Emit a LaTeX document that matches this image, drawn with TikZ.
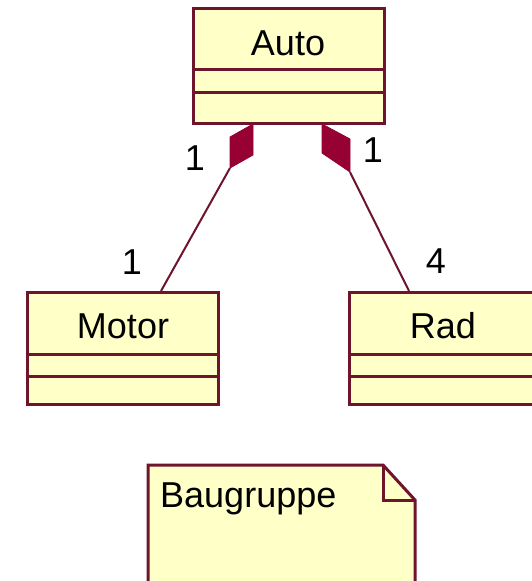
\documentclass[tikz,border=0pt]{standalone}
\usepackage{fontspec}
\setmainfont{Liberation Sans}
\definecolor{umlborder}{RGB}{110,20,45}
\definecolor{umlfill}{RGB}{255,255,200}
\definecolor{umldiam}{RGB}{150,0,50}
\begin{document}
\begin{tikzpicture}[x=1pt,y=-1pt,
  classbox/.style={draw=umlborder,fill=umlfill,line width=3pt,minimum width=191pt,inner sep=0pt},
  sepline/.style={draw=umlborder,line width=3pt},
  lbl/.style={font=\fontsize{36}{40}\selectfont,inner sep=0pt},
  conn/.style={draw=umlborder,line width=2pt},
  diam/.style={fill=umldiam,draw=umldiam,line width=0.8pt,line join=miter},
  notebox/.style={draw=umlborder,fill=umlfill,line width=3pt,line join=miter}]
\clip (0,0) rectangle (532,581);
\fill[white] (0,0) rectangle (532,581);
% classes
\node[classbox,minimum height=115pt] (auto) at (288.5,65.5) {};
\draw[sepline] (auto.west |- 0,69) -- (auto.east |- 0,69);
\draw[sepline] (auto.west |- 0,92) -- (auto.east |- 0,92);
\node[lbl] (autot) at (288,43) {Auto};
\node[classbox,minimum height=112pt] (motor) at (122.5,348) {};
\draw[sepline] (motor.west |- 0,354) -- (motor.east |- 0,354);
\draw[sepline] (motor.west |- 0,376) -- (motor.east |- 0,376);
\node[lbl] (motort) at (123,326) {Motor};
\node[classbox,minimum height=112pt] (rad) at (444.5,348) {};
\draw[sepline] (rad.west |- 0,354) -- (rad.east |- 0,354);
\draw[sepline] (rad.west |- 0,376) -- (rad.east |- 0,376);
\node[lbl] (radt) at (443,326) {Rad};
% composition diamonds
\coordinate (d1a) at (253,124);
\coordinate (d1b) at (230,137);
\coordinate (d1c) at (230,168);
\coordinate (d1d) at (253,155);
\fill[diam] (d1a) -- (d1b) -- (d1c) -- (d1d) -- cycle;
\coordinate (d2a) at (322,124);
\coordinate (d2b) at (350,139);
\coordinate (d2c) at (350,172);
\coordinate (d2d) at (322,153);
\fill[diam] (d2a) -- (d2b) -- (d2c) -- (d2d) -- cycle;
\coordinate (mtop) at (161,291);
\coordinate (rtop) at (409,291);
\draw[conn] (d1c) -- (mtop);
\draw[conn] (d2c) -- (rtop);
% multiplicities
\node[lbl] (m1) at (195,158) {1};
\node[lbl] (m2) at (373,150) {1};
\node[lbl] (m3) at (132,262) {1};
\node[lbl] (m4) at (436,261) {4};
% note
\coordinate (n1) at (148,465);
\coordinate (n2) at (383,465);
\coordinate (n3) at (415,500);
\coordinate (n4) at (415,600);
\coordinate (n5) at (148,600);
\coordinate (nf) at (383,500);
\draw[notebox] (n1) -- (n2) -- (n3) -- (n4) -- (n5) -- cycle;
\draw[sepline] (n2) -- (nf) -- (n3);
\node[lbl,anchor=base west] (notet) at (160,507) {Baugruppe};
\end{tikzpicture}
\end{document}
